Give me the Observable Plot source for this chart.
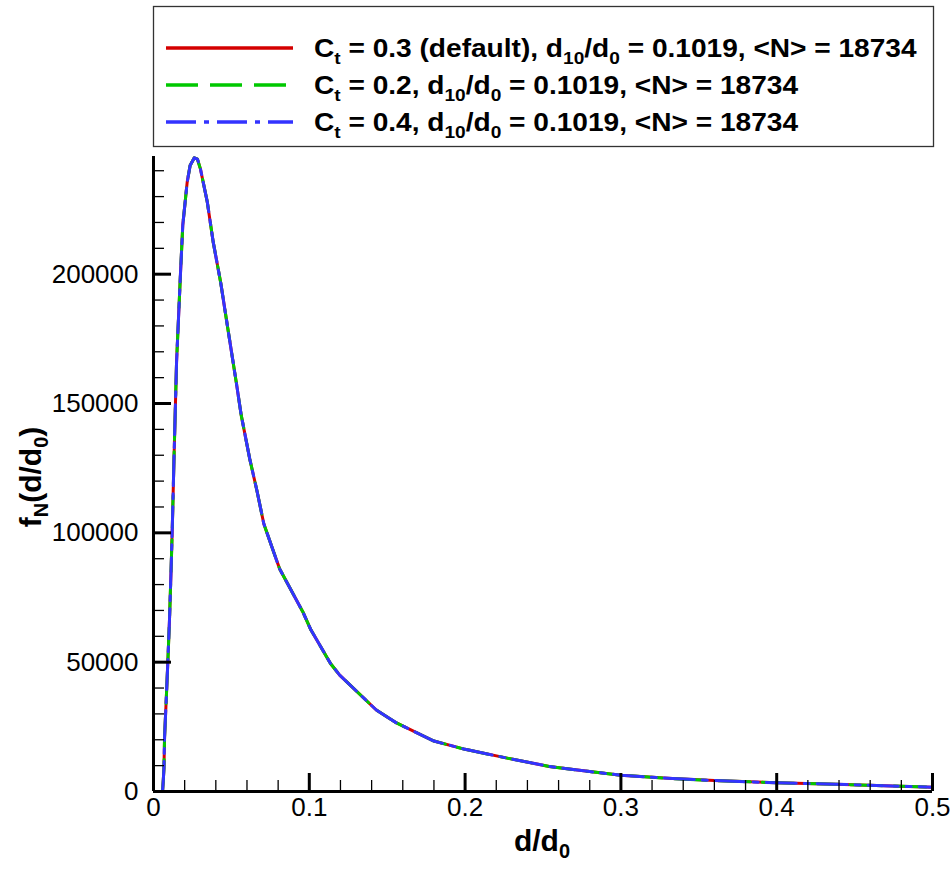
<!DOCTYPE html>
<html><head><meta charset="utf-8">
<script src="https://cdn.jsdelivr.net/npm/d3@7"></script>
<script src="https://cdn.jsdelivr.net/npm/@observablehq/plot@0.6"></script>
<style>
html,body{margin:0;padding:0;background:#fff;}
#legend,#chart{display:block;}
#chart svg{display:block;}
</style></head><body>
<svg id="legend" width="952" height="150"></svg>
<div id="chart"></div>
<script>
// ---- data ----
const dOverD0 = [0.0058,0.0063,0.0067,0.0071,0.0081,0.0092,0.0103,0.0113,0.0120,0.0126,0.0131,0.0148,0.0173,0.0188,0.0216,0.0235,0.0262,0.0282,0.0302,0.0345,0.0383,0.0432,0.0477,0.0533,0.0563,0.0618,0.0665,0.0708,0.0760,0.0810,0.0958,0.1010,0.1136,0.1195,0.1430,0.1520,0.1560,0.1800,0.2000,0.2270,0.2540,0.2800,0.3000,0.3330,0.3600,0.4000,0.4380,0.4640,0.5000];
const fN_Ct03 = [0,4500,9000,21000,34500,50000,67000,86000,100500,115000,127500,166000,200000,219000,235500,242000,245000,244500,240500,228000,212500,196500,179000,157500,145500,128500,116000,103500,94500,86000,69500,62500,49500,45000,31500,28000,26500,19500,16300,12900,9700,7700,6300,5000,4250,3350,2800,2300,1650];
const fN_Ct02 = [0,4500,9000,21000,34500,50000,67000,86000,100500,115000,127500,166000,200000,219000,235500,242000,245000,244500,240500,228000,212500,196500,179000,157500,145500,128500,116000,103500,94500,86000,69500,62500,49500,45000,31500,28000,26500,19500,16300,12900,9700,7700,6300,5000,4250,3350,2800,2300,1650];
const fN_Ct04 = [0,4500,9000,21000,34500,50000,67000,86000,100500,115000,127500,166000,200000,219000,235500,242000,245000,244500,240500,228000,212500,196500,179000,157500,145500,128500,116000,103500,94500,86000,69500,62500,49500,45000,31500,28000,26500,19500,16300,12900,9700,7700,6300,5000,4250,3350,2800,2300,1650];
const ctLabels = ["0.3 (default)", "0.2", "0.4"];
const d10Labels = ["0.1019", "0.1019", "0.1019"];
const meanN = ["18734", "18734", "18734"];
const xTicks = [0, 0.1, 0.2, 0.3, 0.4, 0.5];
const xMinorTicks = [0.02,0.04,0.06,0.08,0.12,0.14,0.16,0.18,0.22,0.24,0.26,0.28,0.32,0.34,0.36,0.38,0.42,0.44,0.46,0.48];
const yTicks = [0, 50000, 100000, 150000, 200000];
const yMinorTicks = [10000,20000,30000,40000,60000,70000,80000,90000,110000,120000,130000,140000,160000,170000,180000,190000,210000,220000,230000,240000];

// ---- styles ----
const seriesValues = [fN_Ct03, fN_Ct02, fN_Ct04];
const colors = ["#d40000", "#00c800", "#3333ff"];
const dashes = [null, "32,12", "30,8,5,8"];
const FONT = "'Liberation Sans', Arial, Helvetica, sans-serif";

const rows = [];
seriesValues.forEach((vals, i) => vals.forEach((f, j) => rows.push({series: i, d: dOverD0[j], f})));

const plot = Plot.plot({
  width: 952, height: 721,
  marginLeft: 153, marginRight: 20, marginTop: 6, marginBottom: 80,
  style: {fontFamily: FONT, fontSize: "26px", color: "#000", background: "#fff", overflow: "visible"},
  x: {domain: [0, 0.5]},
  y: {domain: [0, 245500]},
  marks: [
    ...seriesValues.map((_, i) => Plot.lineY(rows.filter(r => r.series === i), {
      x: "d", y: "f", stroke: colors[i], strokeWidth: 3, strokeDasharray: dashes[i]
    })),
    Plot.axisX(xMinorTicks, {tickSize: -11, strokeWidth: 1.3, fill: "none", label: null}),
    Plot.axisX(xTicks, {tickSize: -18, strokeWidth: 3, fill: "none", label: null}),
    Plot.axisX(xTicks, {tickSize: 0, tickPadding: 6, tickFormat: v => String(v), label: null, fontSize: 26}),
    Plot.axisY(yMinorTicks, {tickSize: -11, strokeWidth: 1.3, fill: "none", label: null}),
    Plot.axisY(yTicks, {tickSize: -18, strokeWidth: 3, fill: "none", label: null}),
    Plot.axisY(yTicks, {tickSize: 0, tickPadding: 15, tickFormat: d3.format("d"), label: null, fontSize: 26}),
    Plot.ruleX([0], {strokeWidth: 3}),
    Plot.ruleY([0], {strokeWidth: 3})
  ]
});
document.getElementById("chart").appendChild(plot);

// helper: write text with subscripts
function writeParts(textSel, parts, subSize, shift) {
  let lastSub = false;
  parts.forEach(([s, sub]) => {
    const t = textSel.append("tspan").text(s);
    if (sub) t.attr("font-size", subSize).attr("dy", lastSub ? 0 : shift);
    else t.attr("dy", lastSub ? -shift : 0);
    lastSub = !!sub;
  });
}

// axis labels
const svg = d3.select(plot);
const xl = svg.append("text").attr("x", 542).attr("y", 701).attr("text-anchor", "middle")
  .attr("font-family", FONT).attr("font-weight", "bold").attr("font-size", 30).attr("fill", "#000");
writeParts(xl, [["d/d", false], ["0", true]], 20, 7);
const yl = svg.append("text").attr("transform", "translate(41,327) rotate(-90)").attr("text-anchor", "middle")
  .attr("font-family", FONT).attr("font-weight", "bold").attr("font-size", 30).attr("fill", "#000");
writeParts(yl, [["f", false], ["N", true], ["(d/d", false], ["0", true], [")", false]], 20, 7);

// legend
const lg = d3.select("#legend");
lg.append("rect").attr("x", 153.5).attr("y", 6.5).attr("width", 780).attr("height", 140)
  .attr("fill", "#fff").attr("stroke", "#333").attr("stroke-width", 1.3);
const rowY = [48, 85, 122];
const texts = [];
ctLabels.forEach((ct, i) => {
  const y = rowY[i];
  lg.append("line").attr("x1", 166).attr("x2", 293).attr("y1", y).attr("y2", y)
    .attr("stroke", colors[i]).attr("stroke-width", 3.5).attr("stroke-dasharray", dashes[i]);
  const t = lg.append("text").attr("x", 0).attr("y", 0)
    .attr("font-family", FONT).attr("font-weight", "bold").attr("font-size", 25).attr("fill", "#000");
  writeParts(t, [["C", false], ["t", true], [` = ${ct}, d`, false], ["10", true], ["/d", false], ["0", true], [` = ${d10Labels[i]}, <N> = ${meanN[i]}`, false]], 17, 7);
  texts.push({t, y});
});
const natural = texts[0].t.node().getComputedTextLength();
const k = 603 / natural;
texts.forEach(({t, y}) => t.attr("transform", `translate(314,${y + 9}) scale(${k},1)`));
</script>
</body></html>
